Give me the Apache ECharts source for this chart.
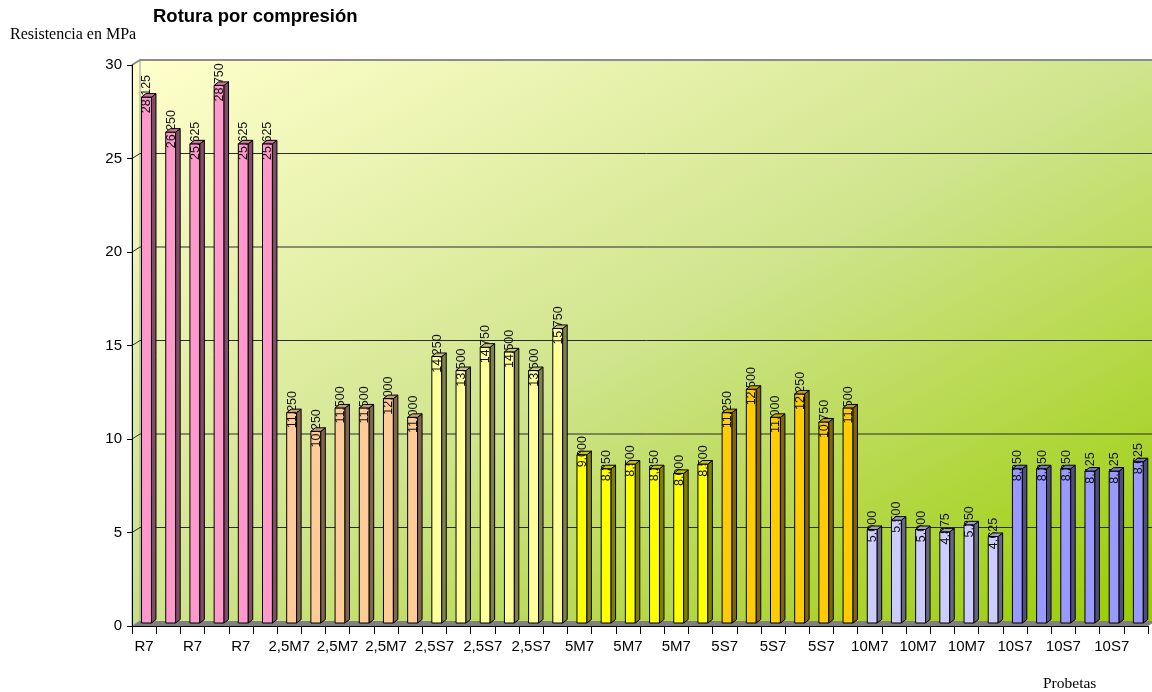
<!DOCTYPE html>
<html>
<head>
<meta charset="utf-8">
<script src="https://cdn.jsdelivr.net/npm/echarts@6/dist/echarts.min.js"></script>
<style>
  html, body { margin: 0; padding: 0; background: #fff; }
  #chart { width: 1152px; height: 692px; }
</style>
</head>
<body>
<div id="chart"></div>
<script>
// Resistencia a compresión por probeta (MPa), seis probetas por serie
const grupos = ['R7', '2,5M7', '2,5S7', '5M7', '5S7', '10M7', '10S7'];
const r7     = [28.125, 26.250, 25.625, 28.750, 25.625, 25.625];
const m2_5   = [11.250, 10.250, 11.500, 11.500, 12.000, 11.000];
const s2_5   = [14.250, 13.500, 14.750, 14.500, 13.500, 15.750];
const m5     = [9.000, 8.250, 8.500, 8.250, 8.000, 8.500];
const s5     = [11.250, 12.500, 11.000, 12.250, 10.750, 11.500];
const m10    = [5.000, 5.500, 5.000, 4.875, 5.250, 4.625];
const s10    = [8.250, 8.250, 8.250, 8.125, 8.125, 8.625];
const ticksY = [5, 10, 15, 20, 25, 30];
const colores = ['#FF99CC', '#FFCC99', '#FFFF99', '#FFFF00', '#FFCC00', '#CCCCFF', '#9999FF'];

const series = [r7, m2_5, s2_5, m5, s5, m10, s10];
const categorias = [];
const barras = [];
series.forEach((vals, g) => {
  vals.forEach(v => {
    barras.push([categorias.length, v, g]);
    categorias.push(grupos[g]);
  });
});

const FONT = '"Liberation Sans", Arial, sans-serif';
const SERIF = '"Liberation Serif", "Times New Roman", serif';

// depth of the box (back wall offset) and of each bar
const WALL_DX = 8, WALL_DY = -5;
const BAR_DX = 4.5, BAR_DY = -3.5;

function shade(hex, f) {
  const n = parseInt(hex.slice(1), 16);
  const r = Math.round(((n >> 16) & 255) * f);
  const g = Math.round(((n >> 8) & 255) * f);
  const b = Math.round((n & 255) * f);
  return 'rgb(' + r + ',' + g + ',' + b + ')';
}

function fmt(v) {
  return v.toFixed(3).replace('.', ',');
}

// corner-to-corner gradient: top-left and bottom-right are the end colours,
// the other two corners sit at the middle stop
function cornerGradient(x, y, w, h, stops) {
  const cx = x + w / 2, cy = y + h / 2;
  const t = (w * h) / (w * w + h * h);
  return new echarts.graphic.LinearGradient(
    cx - t * h, cy - t * w, cx + t * h, cy + t * w, stops, true);
}

function renderWall(params, api) {
  const cs = params.coordSys;
  const x0 = cs.x, y0 = cs.y, w = cs.width, h = cs.height, yb = y0 + h;
  const bx = x0 + WALL_DX, by = y0 + WALL_DY;
  const children = [];
  // back wall
  children.push({
    type: 'rect',
    shape: { x: bx, y: by, width: w, height: h },
    style: {
      fill: cornerGradient(bx, by, w, h, [
        { offset: 0, color: '#FFFFCC' },
        { offset: 0.5, color: '#CFE48C' },
        { offset: 1, color: '#99CC00' }
      ])
    }
  });
  // side wall
  children.push({
    type: 'polygon',
    shape: { points: [[x0, y0], [x0 + WALL_DX, y0 + WALL_DY], [x0 + WALL_DX, yb + WALL_DY], [x0, yb]] },
    style: {
      fill: new echarts.graphic.LinearGradient(0, 0, 0, 1, [
        { offset: 0, color: '#FFFFCC' },
        { offset: 1, color: '#C5DF80' }
      ]),
      stroke: '#9a9a9a', lineWidth: 1
    }
  });
  // floor
  children.push({
    type: 'polygon',
    shape: { points: [[x0, yb], [x0 + WALL_DX, yb + WALL_DY], [x0 + w + WALL_DX, yb + WALL_DY], [x0 + w, yb]] },
    style: { fill: '#808080' }
  });
  // grid lines on the walls
  ticksY.forEach(t => {
    const y = api.coord([0, t])[1];
    const top = t === ticksY[ticksY.length - 1];
    children.push({
      type: 'polyline',
      shape: { points: [[x0, y], [x0 + WALL_DX, y + WALL_DY], [x0 + w + WALL_DX, y + WALL_DY]] },
      style: { fill: null, stroke: top ? '#8c8c8c' : '#2b2b2b', lineWidth: top ? 2 : 1 }
    });
  });
  return { type: 'group', children: children };
}

function renderBar(params, api) {
  const idx = api.value(0);
  const v = api.value(1);
  const g = api.value(2);
  const base = api.coord([idx, 0]);
  const tope = api.coord([idx, v]);
  const bw = api.size([1, 0])[0];
  const fw = bw * 0.41;
  const cx = base[0] + bw * 0.1;
  const fx = cx - fw / 2;
  const yBot = base[1] - 3;
  const yTop = tope[1] - 3;
  const color = colores[g];
  return {
    type: 'group',
    children: [
      {
        type: 'rect',
        shape: { x: fx, y: yTop, width: fw, height: yBot - yTop },
        style: { fill: color, stroke: '#000', lineWidth: 1 }
      },
      {
        type: 'text',
        x: cx + 0.5, y: yTop - 3, rotation: Math.PI / 2,
        style: {
          text: fmt(v), fill: '#111', font: '12.5px ' + FONT,
          align: 'center', verticalAlign: 'middle'
        }
      },
      {
        type: 'polygon',
        shape: { points: [[fx + fw, yTop], [fx + fw + BAR_DX, yTop + BAR_DY], [fx + fw + BAR_DX, yBot + BAR_DY], [fx + fw, yBot]] },
        style: { fill: shade(color, 0.5), stroke: '#000', lineWidth: 1 }
      },
      {
        type: 'polygon',
        shape: { points: [[fx, yTop], [fx + BAR_DX, yTop + BAR_DY], [fx + fw + BAR_DX, yTop + BAR_DY], [fx + fw, yTop]] },
        style: { fill: shade(color, 0.78), stroke: '#000', lineWidth: 1 }
      }
    ]
  };
}

const chart = echarts.init(document.getElementById('chart'), null, { renderer: 'canvas' });
chart.setOption({
  animation: false,
  backgroundColor: '#ffffff',
  title: [
    {
      text: 'Rotura por compresión', left: 153, top: 7, padding: 0,
      textStyle: { fontFamily: FONT, fontWeight: 'bold', fontSize: 18.5, color: '#000', lineHeight: 19 }
    },
    {
      text: 'Resistencia en MPa', left: 10, top: 27, padding: 0,
      textStyle: { fontFamily: SERIF, fontWeight: 'normal', fontSize: 16, color: '#000', lineHeight: 16 }
    },
    {
      text: 'Probetas', left: 1043, top: 676, padding: 0,
      textStyle: { fontFamily: SERIF, fontWeight: 'normal', fontSize: 15.5, color: '#000', lineHeight: 16 }
    }
  ],
  grid: { left: 132, right: 4, top: 65, bottom: 66, containLabel: false },
  xAxis: {
    type: 'category',
    data: categorias,
    boundaryGap: true,
    z: 10,
    axisLine: { show: true, lineStyle: { color: '#000', width: 1 } },
    axisTick: { show: true, interval: 0, length: 8, lineStyle: { color: '#000' } },
    axisLabel: { interval: 1, margin: 13, color: '#000', fontFamily: FONT, fontSize: 15 },
    splitLine: { show: false }
  },
  yAxis: {
    type: 'value',
    min: 0, max: 30, interval: 5,
    z: 10,
    axisLine: { show: true, lineStyle: { color: '#000', width: 1 } },
    axisTick: { show: true, length: 5, lineStyle: { color: '#000' } },
    axisLabel: { margin: 10, color: '#000', fontFamily: FONT, fontSize: 15 },
    splitLine: { show: false }
  },
  series: [
    {
      type: 'custom', name: 'pared', silent: true, z: 1,
      renderItem: renderWall,
      data: [[0, 0]],
      clip: false
    },
    {
      type: 'custom', name: 'Resistencia', z: 3,
      renderItem: renderBar,
      encode: { x: 0, y: 1 },
      data: barras,
      clip: false
    }
  ]
});
</script>
</body>
</html>
